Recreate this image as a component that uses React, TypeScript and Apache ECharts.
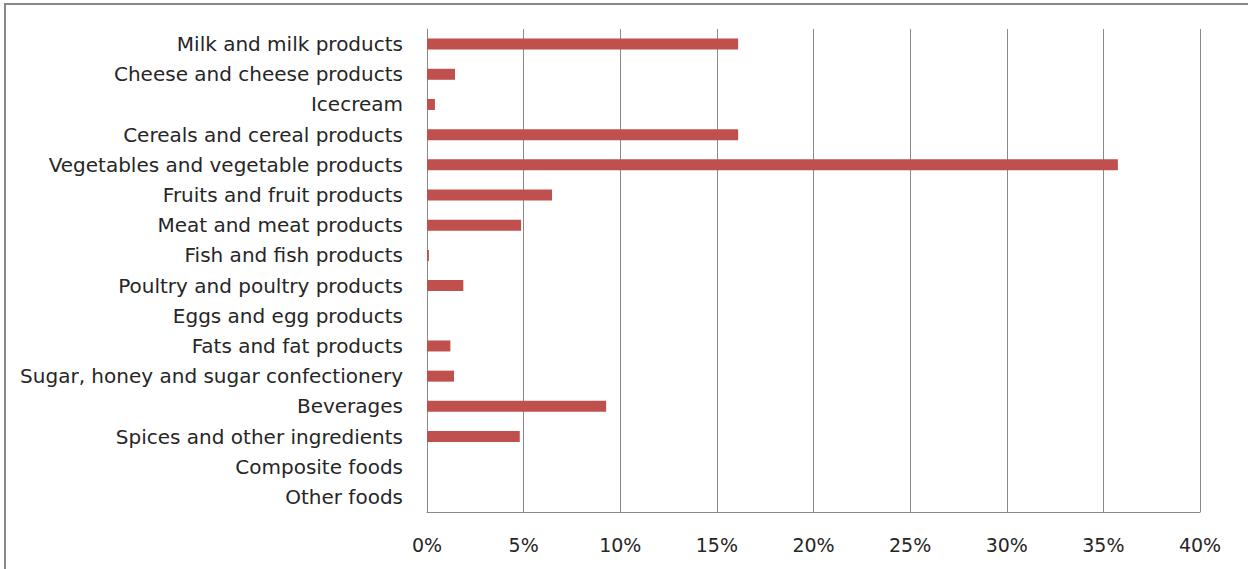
import React, { useEffect, useRef } from "react";
import * as echarts from "echarts";

const categories = [
  "Milk and milk products",
  "Cheese and cheese products",
  "Icecream",
  "Cereals and cereal products",
  "Vegetables and vegetable products",
  "Fruits and fruit products",
  "Meat and meat products",
  "Fish and fish products",
  "Poultry and poultry products",
  "Eggs and egg products",
  "Fats and fat products",
  "Sugar, honey and sugar confectionery",
  "Beverages",
  "Spices and other ingredients",
  "Composite foods",
  "Other foods",
];

const values = [16.1, 1.45, 0.41, 16.1, 35.75, 6.47, 4.87, 0.1, 1.88, 0, 1.21, 1.4, 9.27, 4.8, 0, 0];

const xMin = 0;
const xMax = 40;
const xInterval = 5;

export default function App() {
  const ref = useRef<HTMLDivElement>(null);
  useEffect(() => {
    if (!ref.current) return;
    const chart = echarts.init(ref.current, null, { renderer: "svg" });
    const font = "DejaVu Sans";
    chart.setOption({
      animation: false,
      backgroundColor: "#ffffff",
      grid: { left: 427, top: 29, right: 48, bottom: 57, containLabel: false },
      graphic: [
        {
          type: "rect",
          shape: { x: 5, y: 4, width: 1300, height: 700 },
          style: { fill: "none", stroke: "#888888", lineWidth: 2 },
          silent: true,
          z: -1,
        },
      ],
      xAxis: {
        type: "value",
        min: xMin,
        max: xMax,
        interval: xInterval,
        axisLine: { show: true, lineStyle: { color: "#8a8a8a", width: 1 } },
        axisTick: { show: false },
        splitLine: { show: true, lineStyle: { color: "#8a8a8a", width: 1 } },
        axisLabel: {
          formatter: (v: number) => `${v}%`,
          fontFamily: font,
          fontSize: 19,
          color: "#262626",
          margin: 23,
        },
      },
      yAxis: {
        type: "category",
        data: categories,
        inverse: true,
        axisLine: { show: true, lineStyle: { color: "#8a8a8a", width: 1 } },
        axisTick: { show: false },
        splitLine: { show: false },
        axisLabel: {
          fontFamily: font,
          fontSize: 20,
          color: "#262626",
          margin: 24,
          padding: [2, 0, 0, 0],
        },
      },
      series: [
        {
          type: "bar",
          data: values,
          barWidth: 11,
          itemStyle: { color: "#c0504d" },
        },
      ],
    });
    return () => chart.dispose();
  }, []);
  return <div ref={ref} style={{ width: 1248, height: 569, position: "absolute", left: 0, top: 0 }} />;
}
